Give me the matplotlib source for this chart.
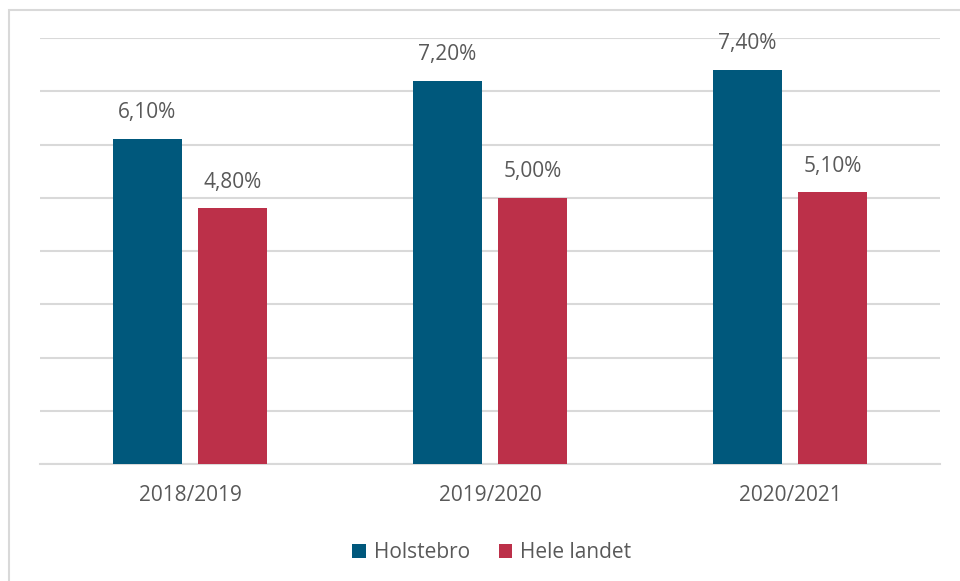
import matplotlib.pyplot as plt
import numpy as np
from matplotlib.patches import Rectangle

plt.rcParams['font.family'] = ['Open Sans', 'DejaVu Sans']

years = ['2018/2019', '2019/2020', '2020/2021']
holstebro = [6.1, 7.2, 7.4]
hele_landet = [4.8, 5.0, 5.1]
series = ['Holstebro', 'Hele landet']
colors = ['#00587C', '#BC3049']
txt = '#595959'

fig = plt.figure(figsize=(9.6, 5.81), dpi=100)
ax = fig.add_axes([40/960, 117/581, 900/960, (464-38)/581])

x = np.arange(len(years))
w = 0.227
off = 0.1417
b1 = ax.bar(x - off, holstebro, w, color=colors[0], label=series[0], zorder=3)
b2 = ax.bar(x + off, hele_landet, w, color=colors[1], label=series[1], zorder=3)

for bars, vals in [(b1, holstebro), (b2, hele_landet)]:
    for r, v in zip(bars, vals):
        ax.annotate(f'{v:.2f}%'.replace('.', ','),
                    (r.get_x() + r.get_width()/2, v),
                    xytext=(0, 19), textcoords='offset points',
                    ha='center', va='center', fontsize=15, color=txt)

ax.set_xlim(-0.5, 2.5)
ax.set_ylim(0, 8)
ax.set_yticks(np.arange(0, 9, 1))
ax.yaxis.grid(True, color='#d9d9d9', linewidth=1.5, zorder=0)
ax.set_yticklabels([])
ax.tick_params(axis='y', length=0)
ax.set_xticks(x)
ax.set_xticklabels(years, fontsize=15, color=txt)
ax.tick_params(axis='x', length=0, pad=15)
for s in ['top', 'right', 'left']:
    ax.spines[s].set_visible(False)
ax.spines['bottom'].set_color('#d9d9d9')
ax.spines['bottom'].set_linewidth(1.5)

leg = fig.legend(loc='center', bbox_to_anchor=(492/960, 1 - 553/581), ncol=2,
                 frameon=False, fontsize=15, handlelength=0.65, handleheight=0.65,
                 handletextpad=0.4, columnspacing=1.35)
for t in leg.get_texts():
    t.set_color(txt)

fig.patches.append(Rectangle((9/960, -0.1), 1.2, 1.1 - 10/581, transform=fig.transFigure,
                             fill=False, edgecolor='#d9d9d9', linewidth=1.5))

fig.savefig('out.png', dpi=100)
